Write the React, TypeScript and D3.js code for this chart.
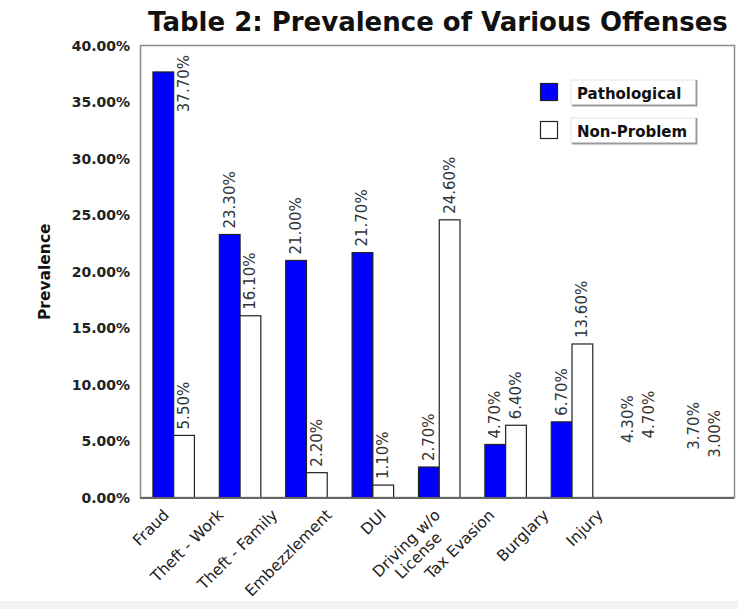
import React, { useEffect, useRef } from 'react';
import * as d3 from 'd3';

const categories = [
  'Fraud',
  'Theft - Work',
  'Theft - Family',
  'Embezzlement',
  'DUI',
  'Driving w/o\nLicense',
  'Tax Evasion',
  'Burglary',
  'Injury',
];
const seriesNames = ['Pathological', 'Non-Problem'];
const pathological = [37.7, 23.3, 21.0, 21.7, 2.7, 4.7, 6.7, 4.3, 3.7];
const nonProblem = [5.5, 16.1, 2.2, 1.1, 24.6, 6.4, 13.6, 4.7, 3.0];
const yTicks = [0, 5, 10, 15, 20, 25, 30, 35, 40];
// the source image shows only the value labels for these two, no bars
const hiddenBars = ['Burglary', 'Injury'];
const seriesColors = ['#0000ff', '#ffffff'];

const W = 738;
const H = 609;

const App = () => {
  const ref = useRef<SVGSVGElement>(null);

  useEffect(() => {
    const svg = d3.select(ref.current);
    svg.selectAll('*').remove();

    const left = 140;
    const right = 734;
    const top = 46;
    const bottom = 497.5;

    const x = d3.scaleBand().domain(categories).range([left + 0.5, 738]);
    const xInner = d3
      .scaleBand()
      .domain(seriesNames)
      .range([0, x.bandwidth()])
      .paddingInner(0)
      .paddingOuter(0.6);
    const y = d3.scaleLinear().domain([0, 40]).range([bottom, top]);
    // category labels sit on their own (narrower) spacing in the original
    const xLabel = d3.scalePoint().domain(categories).range([170, 604]);
    const fmt = d3.format('.2f');

    svg.append('rect').attr('width', W).attr('height', H).attr('fill', '#fff');
    svg.append('rect').attr('y', 601).attr('width', W).attr('height', 8).attr('fill', '#f3f3f3');

    // title
    svg
      .append('text')
      .attr('x', 148)
      .attr('y', 31)
      .attr('font-family', 'DejaVu Sans')
      .attr('font-weight', 'bold')
      .attr('font-size', 26)
      .attr('fill', '#111')
      .text('Table 2: Prevalence of Various Offenses');

    // frame
    svg
      .append('rect')
      .attr('x', left + 0.5)
      .attr('y', top - 0.5)
      .attr('width', right - left)
      .attr('height', bottom - top + 0.5)
      .attr('fill', 'none')
      .attr('stroke', '#8c8c8c')
      .attr('stroke-width', 1.5);

    // y tick labels
    svg
      .append('g')
      .selectAll('text')
      .data(yTicks)
      .enter()
      .append('text')
      .attr('x', 130)
      .attr('y', (d) => y(d))
      .attr('dy', '0.36em')
      .attr('text-anchor', 'end')
      .attr('font-family', 'DejaVu Sans')
      .attr('font-weight', 'bold')
      .attr('font-size', 14)
      .attr('fill', '#222')
      .text((d) => fmt(d) + '%');

    svg
      .append('text')
      .attr('transform', `translate(50, ${(top + bottom) / 2}) rotate(-90)`)
      .attr('text-anchor', 'middle')
      .attr('font-family', 'DejaVu Sans')
      .attr('font-weight', 'bold')
      .attr('font-size', 15.5)
      .attr('fill', '#111')
      .text('Prevalence');

    // bars + value labels
    const series = [pathological, nonProblem];
    const bars = svg.append('g');
    const labels = svg.append('g');
    categories.forEach((c, i) => {
      series.forEach((vals, s) => {
        const v = vals[i];
        const bx = x(c)! + xInner(seriesNames[s])!;
        const bw = xInner.bandwidth();
        if (!hiddenBars.includes(c)) {
          bars
            .append('rect')
            .attr('x', bx)
            .attr('y', y(v))
            .attr('width', bw)
            .attr('height', bottom - y(v))
            .attr('fill', seriesColors[s])
            .attr('stroke', '#222')
            .attr('stroke-width', 1.2);
        }
        const t = labels
          .append('text')
          .attr('font-family', 'DejaVu Sans')
          .attr('font-size', 15)
          .attr('fill', '#333')
          .text(fmt(v) + '%');
        const len = (t.node() as SVGTextElement).getComputedTextLength();
        const cx = bx + bw / 2 + 5;
        if (y(v) - 6 - len < top + 6) {
          // no room above the bar: label moves beside it, from the top
          t.attr('text-anchor', 'end').attr('transform', `translate(${cx + bw}, ${top + 9}) rotate(-90)`);
        } else {
          t.attr('text-anchor', 'start').attr('transform', `translate(${cx}, ${y(v) - 6}) rotate(-90)`);
        }
      });
    });

    // bottom axis line
    svg
      .append('line')
      .attr('x1', left)
      .attr('x2', right)
      .attr('y1', bottom + 0.5)
      .attr('y2', bottom + 0.5)
      .attr('stroke', '#666')
      .attr('stroke-width', 2);

    // category labels
    categories.forEach((c) => {
      const g = svg
        .append('g')
        .attr('transform', `translate(${xLabel(c)}, 516) rotate(-45)`)
        .attr('font-family', 'DejaVu Sans')
        .attr('font-size', 15.5)
        .attr('fill', '#222');
      const lines = c.split('\n');
      const first = g.append('text').attr('text-anchor', 'end').text(lines[0]);
      const w1 = (first.node() as SVGTextElement).getComputedTextLength();
      lines.slice(1).forEach((ln, k) => {
        g.append('text')
          .attr('text-anchor', 'middle')
          .attr('x', -w1 / 2)
          .attr('y', 17 * (k + 1))
          .text(ln);
      });
    });

    // legend
    const legend = svg.append('g');
    seriesNames.forEach((name, s) => {
      const ly = 80 + s * 38;
      legend
        .append('rect')
        .attr('x', 540.5)
        .attr('y', ly + 3.5)
        .attr('width', 17)
        .attr('height', 17)
        .attr('fill', seriesColors[s])
        .attr('stroke', '#222')
        .attr('stroke-width', 1.2);
      legend
        .append('path')
        .attr('d', `M571,${ly + 26} V${ly} H697`)
        .attr('fill', 'none')
        .attr('stroke', '#e4e4e4')
        .attr('stroke-width', 1);
      legend
        .append('path')
        .attr('d', `M572,${ly + 25.5} H696.5 V${ly}`)
        .attr('fill', 'none')
        .attr('stroke', '#9a9a9a')
        .attr('stroke-width', 2);
      legend
        .append('text')
        .attr('x', 577)
        .attr('y', ly + 19)
        .attr('font-family', 'DejaVu Sans')
        .attr('font-weight', 'bold')
        .attr('font-size', 15)
        .attr('fill', '#111')
        .text(name);
    });
  }, []);

  return (
    <svg
      ref={ref}
      width={W}
      height={H}
      style={{ position: 'absolute', left: 0, top: 0, display: 'block' }}
    />
  );
};

export default App;
